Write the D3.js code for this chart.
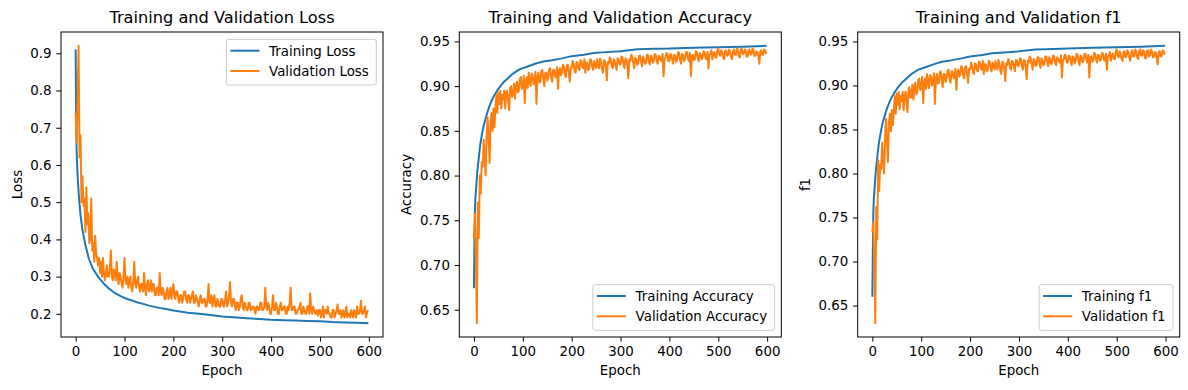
<!DOCTYPE html>
<html>
<head>
<meta charset="utf-8">
<script src="https://cdn.jsdelivr.net/npm/d3@7"></script>
<style>
  body { margin: 0; background: #fff; }
  text { font-family: "DejaVu Sans", sans-serif; fill: #000; }
</style>
</head>
<body>
<svg id="chart" width="1188" height="390"></svg>
<script>
// ---- data ----
const xTicks = [0, 100, 200, 300, 400, 500, 600];
const lossTicks = [0.2, 0.3, 0.4, 0.5, 0.6, 0.7, 0.8, 0.9];
const scoreTicks = [0.65, 0.7, 0.75, 0.8, 0.85, 0.9, 0.95];

// validation values were read every 2 epochs
const valEpochs = d3.range(0, 600, 2);

const trainLossEpochs = [0, 1, 2, 3, 5, 7, 10, 14, 20, 27, 35, 48, 60, 68, 80, 90, 103, 115, 125, 140,
  150, 171, 185, 200, 230, 253, 280, 300, 330, 350, 376, 400, 425, 450, 475, 500, 525, 550, 575, 599];
const trainLoss = [0.91, 0.74, 0.64, 0.60, 0.55, 0.51, 0.465, 0.425, 0.385, 0.348, 0.322, 0.296, 0.278, 0.268, 0.256, 0.249, 0.241, 0.236, 0.231, 0.226,
  0.222, 0.216, 0.213, 0.209, 0.203, 0.200, 0.196, 0.193, 0.190, 0.188, 0.186, 0.184, 0.183, 0.182, 0.181, 0.180, 0.178, 0.177, 0.176, 0.175];

const valLoss = [
  0.74, 0.66, 0.78, 0.92, 0.62, 0.68, 0.50, 0.57, 0.49, 0.51,
  0.42, 0.54, 0.44, 0.47, 0.39, 0.40, 0.51, 0.37, 0.39, 0.34,
  0.41, 0.36, 0.35, 0.33, 0.35, 0.31, 0.34, 0.30, 0.35, 0.31,
  // 60-98
  0.29, 0.31, 0.33, 0.30, 0.30, 0.32, 0.37, 0.30, 0.29, 0.32, 0.31, 0.29, 0.34, 0.30, 0.28, 0.31, 0.30, 0.28, 0.27, 0.30,
  // 100-198
  0.35, 0.29, 0.28, 0.30, 0.27, 0.29, 0.30, 0.27, 0.26, 0.29, 0.34, 0.28, 0.27, 0.29, 0.30, 0.27, 0.26, 0.28, 0.28, 0.26,
  0.31, 0.27, 0.25, 0.28, 0.29, 0.26, 0.27, 0.29, 0.26, 0.28, 0.28, 0.25, 0.25, 0.27, 0.27, 0.25, 0.31, 0.26, 0.25, 0.27,
  0.26, 0.24, 0.24, 0.26, 0.27, 0.24, 0.25, 0.27, 0.24, 0.26,
  // 200-298
  0.28, 0.25, 0.24, 0.26, 0.26, 0.24, 0.23, 0.25, 0.25, 0.23, 0.24, 0.26, 0.26, 0.24, 0.23, 0.25, 0.25, 0.23, 0.24, 0.25,
  0.26, 0.23, 0.23, 0.25, 0.24, 0.23, 0.22, 0.24, 0.25, 0.23, 0.23, 0.24, 0.24, 0.22, 0.22, 0.24, 0.28, 0.23, 0.23, 0.25,
  0.22, 0.24, 0.25, 0.22, 0.22, 0.24, 0.23, 0.22, 0.22, 0.24,
  // 300-398
  0.24, 0.22, 0.22, 0.24, 0.26, 0.22, 0.23, 0.25, 0.285, 0.23, 0.22, 0.24, 0.24, 0.22, 0.21, 0.23, 0.23, 0.21, 0.22, 0.24,
  0.25, 0.22, 0.21, 0.23, 0.22, 0.21, 0.21, 0.23, 0.23, 0.21, 0.21, 0.22, 0.22, 0.21, 0.20, 0.22, 0.22, 0.21, 0.21, 0.23,
  0.23, 0.21, 0.21, 0.22, 0.27, 0.22, 0.21, 0.23, 0.22, 0.20,
  // 400-498
  0.20, 0.22, 0.25, 0.21, 0.21, 0.23, 0.22, 0.20, 0.20, 0.22, 0.23, 0.21, 0.21, 0.22, 0.22, 0.20, 0.20, 0.22, 0.21, 0.23,
  0.27, 0.21, 0.21, 0.22, 0.22, 0.20, 0.20, 0.21, 0.21, 0.22, 0.23, 0.20, 0.20, 0.22, 0.21, 0.20, 0.20, 0.22, 0.22, 0.20,
  0.255, 0.21, 0.20, 0.22, 0.21, 0.20, 0.20, 0.21, 0.195, 0.21,
  // 500-598
  0.21, 0.19, 0.20, 0.22, 0.19, 0.21, 0.21, 0.20, 0.22, 0.20, 0.20, 0.19, 0.19, 0.21, 0.21, 0.19, 0.20, 0.21, 0.225, 0.20,
  0.20, 0.21, 0.19, 0.20, 0.21, 0.19, 0.20, 0.22, 0.19, 0.20, 0.20, 0.19, 0.21, 0.20, 0.19, 0.21, 0.20, 0.19, 0.22, 0.20,
  0.20, 0.21, 0.235, 0.20, 0.20, 0.21, 0.22, 0.19, 0.20, 0.21
];

const trainScoreEpochs = [0, 1, 2, 3, 5, 7, 10, 13, 16, 20, 25, 30, 35, 40, 50, 60, 70, 80, 94, 110,
  125, 142, 160, 180, 200, 225, 245, 270, 300, 334, 370, 400, 450, 500, 550, 599];
const trainAcc = [0.674, 0.72, 0.76, 0.775, 0.79, 0.805, 0.82, 0.835, 0.845, 0.856, 0.866, 0.875, 0.882, 0.888, 0.897, 0.904, 0.909, 0.914, 0.919, 0.922,
  0.925, 0.9275, 0.929, 0.931, 0.9335, 0.935, 0.9369, 0.938, 0.939, 0.9413, 0.9418, 0.942, 0.943, 0.9435, 0.944, 0.945];

const valAcc = [
  0.730, 0.757, 0.710, 0.635, 0.770, 0.730, 0.800, 0.780, 0.815, 0.810,
  0.840, 0.820, 0.800, 0.845, 0.865, 0.840, 0.814, 0.860, 0.870, 0.850,
  0.875, 0.854, 0.875, 0.890, 0.870, 0.893, 0.880, 0.895, 0.875, 0.890,
  // 60-98
  0.885, 0.895, 0.875, 0.892, 0.895, 0.884, 0.873, 0.898, 0.900, 0.888, 0.890, 0.903, 0.886, 0.900, 0.905, 0.893, 0.895, 0.908, 0.910, 0.897,
  // 100-198
  0.900, 0.912, 0.881, 0.905, 0.910, 0.898, 0.915, 0.906, 0.900, 0.914, 0.912, 0.902, 0.905, 0.916, 0.880, 0.910, 0.915, 0.904, 0.905, 0.917,
  0.918, 0.908, 0.900, 0.915, 0.915, 0.906, 0.910, 0.919, 0.920, 0.909, 0.905, 0.918, 0.918, 0.911, 0.910, 0.921, 0.897, 0.917, 0.920, 0.912,
  0.915, 0.924, 0.922, 0.913, 0.910, 0.923, 0.924, 0.915, 0.905, 0.921,
  // 200-298
  0.920, 0.928, 0.925, 0.917, 0.915, 0.927, 0.926, 0.919, 0.918, 0.929, 0.928, 0.921, 0.920, 0.930, 0.915, 0.926, 0.926, 0.918, 0.920, 0.930,
  0.929, 0.922, 0.918, 0.928, 0.925, 0.920, 0.930, 0.924, 0.920, 0.931, 0.927, 0.919, 0.915, 0.929, 0.928, 0.921, 0.9065, 0.927, 0.925, 0.932,
  0.930, 0.922, 0.920, 0.930, 0.928, 0.923, 0.918, 0.931, 0.930, 0.924,
  // 300-398
  0.925, 0.933, 0.932, 0.924, 0.920, 0.931, 0.930, 0.922, 0.909, 0.930, 0.928, 0.935, 0.933, 0.926, 0.920, 0.932, 0.930, 0.924, 0.925, 0.934,
  0.934, 0.927, 0.922, 0.933, 0.930, 0.925, 0.926, 0.935, 0.935, 0.927, 0.924, 0.934, 0.932, 0.926, 0.928, 0.936, 0.935, 0.928, 0.925, 0.934,
  0.933, 0.929, 0.928, 0.936, 0.911, 0.931, 0.932, 0.937, 0.936, 0.928,
  // 400-498
  0.928, 0.936, 0.935, 0.929, 0.925, 0.935, 0.934, 0.927, 0.930, 0.938, 0.937, 0.929, 0.925, 0.936, 0.935, 0.928, 0.930, 0.938, 0.938, 0.931,
  0.928, 0.937, 0.911, 0.934, 0.935, 0.929, 0.930, 0.939, 0.938, 0.931, 0.928, 0.937, 0.936, 0.930, 0.932, 0.939, 0.938, 0.931, 0.930, 0.938,
  0.9197, 0.935, 0.936, 0.940, 0.930, 0.937, 0.938, 0.932, 0.932, 0.940,
  // 500-598
  0.942, 0.936, 0.934, 0.940, 0.938, 0.932, 0.930, 0.939, 0.940, 0.934, 0.935, 0.941, 0.939, 0.933, 0.930, 0.938, 0.941, 0.935, 0.935, 0.942,
  0.940, 0.934, 0.932, 0.940, 0.942, 0.936, 0.936, 0.941, 0.940, 0.933, 0.933, 0.940, 0.941, 0.935, 0.936, 0.942, 0.940, 0.934, 0.934, 0.939,
  0.938, 0.933, 0.925, 0.939, 0.940, 0.935, 0.935, 0.941, 0.940, 0.936
];

const trainF1 = [0.66, 0.71, 0.755, 0.77, 0.787, 0.802, 0.818, 0.833, 0.843, 0.855, 0.865, 0.874, 0.881, 0.887, 0.896, 0.903, 0.908, 0.913, 0.918, 0.921,
  0.924, 0.927, 0.9285, 0.9305, 0.933, 0.9345, 0.9365, 0.9375, 0.9388, 0.941, 0.9415, 0.942, 0.9428, 0.9433, 0.944, 0.945];

const valF1 = [
  0.733, 0.745, 0.700, 0.630, 0.762, 0.725, 0.815, 0.780, 0.810, 0.805,
  0.835, 0.815, 0.800, 0.840, 0.862, 0.835, 0.813, 0.858, 0.868, 0.848,
  0.872, 0.855, 0.872, 0.888, 0.868, 0.891, 0.878, 0.893, 0.873, 0.888,
  // 60-98
  0.882, 0.893, 0.872, 0.889, 0.893, 0.881, 0.870, 0.896, 0.898, 0.886, 0.887, 0.901, 0.884, 0.898, 0.903, 0.890, 0.892, 0.906, 0.908, 0.895,
  // 100-198
  0.898, 0.910, 0.880, 0.903, 0.908, 0.896, 0.913, 0.904, 0.897, 0.912, 0.910, 0.900, 0.903, 0.914, 0.879, 0.908, 0.913, 0.902, 0.903, 0.915,
  0.916, 0.906, 0.898, 0.913, 0.913, 0.904, 0.908, 0.917, 0.918, 0.907, 0.903, 0.916, 0.916, 0.909, 0.908, 0.919, 0.895, 0.915, 0.918, 0.910,
  0.913, 0.922, 0.920, 0.911, 0.908, 0.921, 0.922, 0.913, 0.903, 0.919,
  // 200-298
  0.918, 0.926, 0.923, 0.915, 0.913, 0.925, 0.924, 0.917, 0.916, 0.927, 0.926, 0.919, 0.918, 0.928, 0.913, 0.924, 0.924, 0.916, 0.918, 0.928,
  0.927, 0.920, 0.916, 0.926, 0.923, 0.918, 0.928, 0.922, 0.918, 0.929, 0.925, 0.917, 0.913, 0.927, 0.926, 0.919, 0.905, 0.925, 0.923, 0.930,
  0.928, 0.920, 0.918, 0.928, 0.926, 0.921, 0.916, 0.929, 0.928, 0.922,
  // 300-398
  0.923, 0.931, 0.930, 0.922, 0.918, 0.929, 0.928, 0.920, 0.907, 0.928, 0.926, 0.933, 0.931, 0.924, 0.918, 0.930, 0.928, 0.922, 0.923, 0.932,
  0.932, 0.925, 0.920, 0.931, 0.928, 0.923, 0.924, 0.933, 0.933, 0.925, 0.922, 0.932, 0.930, 0.924, 0.926, 0.934, 0.933, 0.926, 0.923, 0.932,
  0.931, 0.927, 0.926, 0.934, 0.909, 0.929, 0.930, 0.935, 0.934, 0.926,
  // 400-498
  0.926, 0.934, 0.933, 0.927, 0.923, 0.933, 0.932, 0.925, 0.928, 0.936, 0.935, 0.927, 0.923, 0.934, 0.933, 0.926, 0.928, 0.936, 0.936, 0.929,
  0.926, 0.935, 0.909, 0.932, 0.933, 0.927, 0.928, 0.937, 0.936, 0.929, 0.926, 0.935, 0.934, 0.928, 0.930, 0.937, 0.936, 0.929, 0.928, 0.936,
  0.918, 0.933, 0.934, 0.938, 0.928, 0.935, 0.936, 0.930, 0.930, 0.938,
  // 500-598
  0.941, 0.934, 0.932, 0.939, 0.936, 0.930, 0.928, 0.938, 0.939, 0.932, 0.933, 0.940, 0.937, 0.931, 0.928, 0.937, 0.940, 0.933, 0.933, 0.941,
  0.939, 0.932, 0.930, 0.939, 0.941, 0.934, 0.934, 0.940, 0.939, 0.931, 0.931, 0.939, 0.940, 0.933, 0.934, 0.941, 0.939, 0.932, 0.932, 0.938,
  0.937, 0.931, 0.924, 0.938, 0.939, 0.933, 0.933, 0.940, 0.939, 0.935
];

// ---- layout ----
const svg = d3.select("#chart");
const panelW = 322;
const plotTop = 32;
const plotBottom = 337;
const fontSize = 13.4;
const blue = "#1f77b4";
const orange = "#ff7f0e";

function drawPanel(cfg) {
  let g = svg.append("g");

  let x = d3.scaleLinear()
    .domain([0 - 0.05 * 599, 599 + 0.05 * 599])
    .range([cfg.left, cfg.left + panelW]);

  // matplotlib style 5% margin around the data
  let ext = d3.extent(cfg.train.concat(cfg.val));
  let pad = (ext[1] - ext[0]) * 0.05;
  let y = d3.scaleLinear()
    .domain([ext[0] - pad, ext[1] + pad])
    .range([plotBottom, plotTop]);

  let xAxis = g.append("g")
    .attr("transform", `translate(0,${plotBottom})`)
    .call(d3.axisBottom(x).tickValues(xTicks).tickSize(4.7).tickPadding(4.7).tickFormat(d3.format("d")));
  let yAxis = g.append("g")
    .attr("transform", `translate(${cfg.left},0)`)
    .call(d3.axisLeft(y).tickValues(cfg.ticks).tickSize(4.7).tickPadding(4.7).tickFormat(d3.format(cfg.fmt)));

  [xAxis, yAxis].forEach(function(a) {
    a.select(".domain").remove();
    a.selectAll("line").attr("stroke", "#000").attr("stroke-width", 1);
    a.selectAll("text").attr("font-size", fontSize).attr("font-family", "DejaVu Sans").attr("fill", "#000");
  });

  let line = d3.line().x(d => x(d[0])).y(d => y(d[1]));

  g.append("path")
    .datum(d3.zip(cfg.trainEpochs, cfg.train))
    .attr("d", line)
    .attr("fill", "none")
    .attr("stroke", blue)
    .attr("stroke-width", 2)
    .attr("stroke-linejoin", "round");

  g.append("path")
    .datum(d3.zip(valEpochs, cfg.val))
    .attr("d", line)
    .attr("fill", "none")
    .attr("stroke", orange)
    .attr("stroke-width", 2)
    .attr("stroke-linejoin", "round");

  // frame
  g.append("rect")
    .attr("x", cfg.left).attr("y", plotTop)
    .attr("width", panelW).attr("height", plotBottom - plotTop)
    .attr("fill", "none").attr("stroke", "#000").attr("stroke-width", 1);

  // title and axis labels
  g.append("text")
    .attr("x", cfg.left + panelW / 2).attr("y", 23)
    .attr("text-anchor", "middle").attr("font-size", 16.2)
    .text(cfg.title);

  g.append("text")
    .attr("x", cfg.left + panelW / 2).attr("y", 375)
    .attr("text-anchor", "middle").attr("font-size", fontSize)
    .text("Epoch");

  let maxW = d3.max(yAxis.selectAll("text").nodes(), n => n.getComputedTextLength());
  let lx = cfg.left - 9.4 - maxW - 5.4 - 3.2;
  let ly = (plotTop + plotBottom) / 2;
  g.append("text")
    .attr("transform", `translate(${lx},${ly}) rotate(-90)`)
    .attr("text-anchor", "middle").attr("font-size", fontSize)
    .text(cfg.ylabel);

  // legend
  let leg = g.append("g");
  let frame = leg.append("rect");
  let labels = [cfg.trainName, cfg.valName];
  let colors = [blue, orange];
  let items = leg.selectAll("g.item").data(labels).enter().append("g").attr("class", "item");
  items.append("line")
    .attr("x1", 4).attr("x2", 33)
    .attr("y1", (d, i) => 11.4 + i * 20.3).attr("y2", (d, i) => 11.4 + i * 20.3)
    .attr("stroke", (d, i) => colors[i]).attr("stroke-width", 2);
  items.append("text")
    .attr("x", 42.7).attr("y", (d, i) => 11.4 + i * 20.3)
    .attr("dy", "0.36em").attr("font-size", fontSize)
    .text(d => d);
  let textW = d3.max(items.selectAll("text").nodes(), n => n.getComputedTextLength());
  let lw = 42.7 + textW + 7.5;
  let lh = 45.7;
  frame.attr("width", lw).attr("height", lh).attr("rx", 2.5)
    .attr("fill", "#fff").attr("fill-opacity", 0.8)
    .attr("stroke", "#cccccc").attr("stroke-width", 1);
  let legX = cfg.left + panelW - 6.7 - lw;
  let legY = cfg.legend === "upper" ? plotTop + 7.3 : plotBottom - 6.7 - lh;
  leg.attr("transform", `translate(${legX},${legY})`);
}

drawPanel({
  left: 61, title: "Training and Validation Loss", ylabel: "Loss",
  trainEpochs: trainLossEpochs, train: trainLoss, val: valLoss,
  ticks: lossTicks, fmt: ".1f",
  trainName: "Training Loss", valName: "Validation Loss", legend: "upper"
});
drawPanel({
  left: 459.3, title: "Training and Validation Accuracy", ylabel: "Accuracy",
  trainEpochs: trainScoreEpochs, train: trainAcc, val: valAcc,
  ticks: scoreTicks, fmt: ".2f",
  trainName: "Training Accuracy", valName: "Validation Accuracy", legend: "lower"
});
drawPanel({
  left: 857.7, title: "Training and Validation f1", ylabel: "f1",
  trainEpochs: trainScoreEpochs, train: trainF1, val: valF1,
  ticks: scoreTicks, fmt: ".2f",
  trainName: "Training f1", valName: "Validation f1", legend: "lower"
});
</script>
</body>
</html>
